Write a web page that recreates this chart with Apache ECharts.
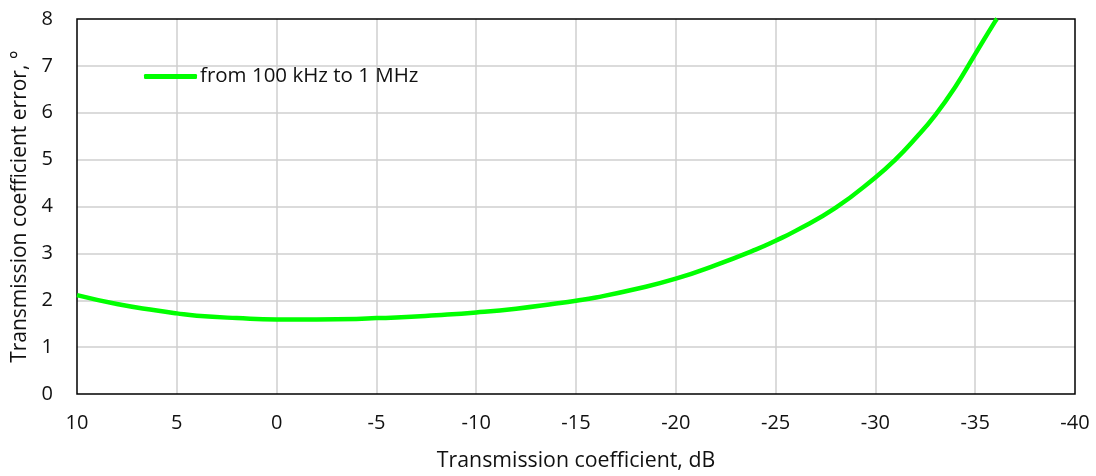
<!DOCTYPE html>
<html><head><meta charset="utf-8">
<script src="https://cdn.jsdelivr.net/npm/echarts@6/dist/echarts.min.js"></script>
<style>html,body{margin:0;padding:0;background:#fff}#c{width:1096px;height:476px}</style>
</head><body><div id="c"></div>
<script>
const xValues = [10, 8, 6, 5, 4, 2, 0, -2, -4, -5, -6, -8, -10, -12, -14, -15, -16, -18, -20, -22, -24, -25, -26, -28, -30, -31, -32, -33, -34, -35, -36, -36.1];
const yValues = [2.11, 1.92, 1.78, 1.72, 1.67, 1.62, 1.59, 1.59, 1.6, 1.62, 1.63, 1.68, 1.74, 1.82, 1.93, 1.99, 2.06, 2.24, 2.46, 2.75, 3.08, 3.27, 3.48, 3.97, 4.62, 5.0, 5.45, 5.95, 6.55, 7.25, 7.95, 8.0];
const seriesName = 'from 100 kHz to 1 MHz';
const xTitle = 'Transmission coefficient, dB';
const yTitle = 'Transmission coefficient error, °';

const font = '"Open Sans", "DejaVu Sans", sans-serif';
const chart = echarts.init(document.getElementById('c'), null, {renderer: 'canvas'});
chart.setOption({
  animation: false,
  grid: {left: 77, right: 21, top: 19, bottom: 82, show: true, borderColor: '#000', borderWidth: 1.5, z: 3,
         containLabel: false, outerBoundsMode: 'none'},
  legend: {
    left: 139, top: 61, itemWidth: 53, itemHeight: 5, itemGap: 10,
    icon: 'roundRect',
    data: [{name: seriesName, itemStyle: {color: '#00ff00'}}],
    textStyle: {fontFamily: font, fontSize: 20.5, color: '#111', padding: [0, 0, 0, -2]}
  },
  xAxis: {
    type: 'value', inverse: true, min: -40, max: 10, interval: 5,
    name: xTitle, nameLocation: 'middle', nameGap: 56,
    nameTextStyle: {fontFamily: font, fontSize: 21.3, color: '#111'},
    axisLine: {show: false}, axisTick: {show: false},
    axisLabel: {fontFamily: font, fontSize: 20, color: '#111', margin: 19},
    splitLine: {show: true, showMinLine: false, showMaxLine: false, lineStyle: {color: '#cfcfcf', width: 1.5}}
  },
  yAxis: {
    type: 'value', min: 0, max: 8, interval: 1,
    name: yTitle, nameLocation: 'middle', nameGap: 45,
    nameTextStyle: {fontFamily: font, fontSize: 21, color: '#111'},
    axisLine: {show: false}, axisTick: {show: false},
    axisLabel: {fontFamily: font, fontSize: 20, color: '#111', margin: 24},
    splitLine: {show: true, showMinLine: false, showMaxLine: false, lineStyle: {color: '#cfcfcf', width: 1.5}}
  },
  series: [{
    name: seriesName, type: 'line', smooth: true, symbol: 'none',
    data: xValues.map((x, i) => [x, yValues[i]]),
    lineStyle: {color: '#00ff00', width: 4.5},
    itemStyle: {color: '#00ff00'},
    clip: true
  }]
});
</script></body></html>
